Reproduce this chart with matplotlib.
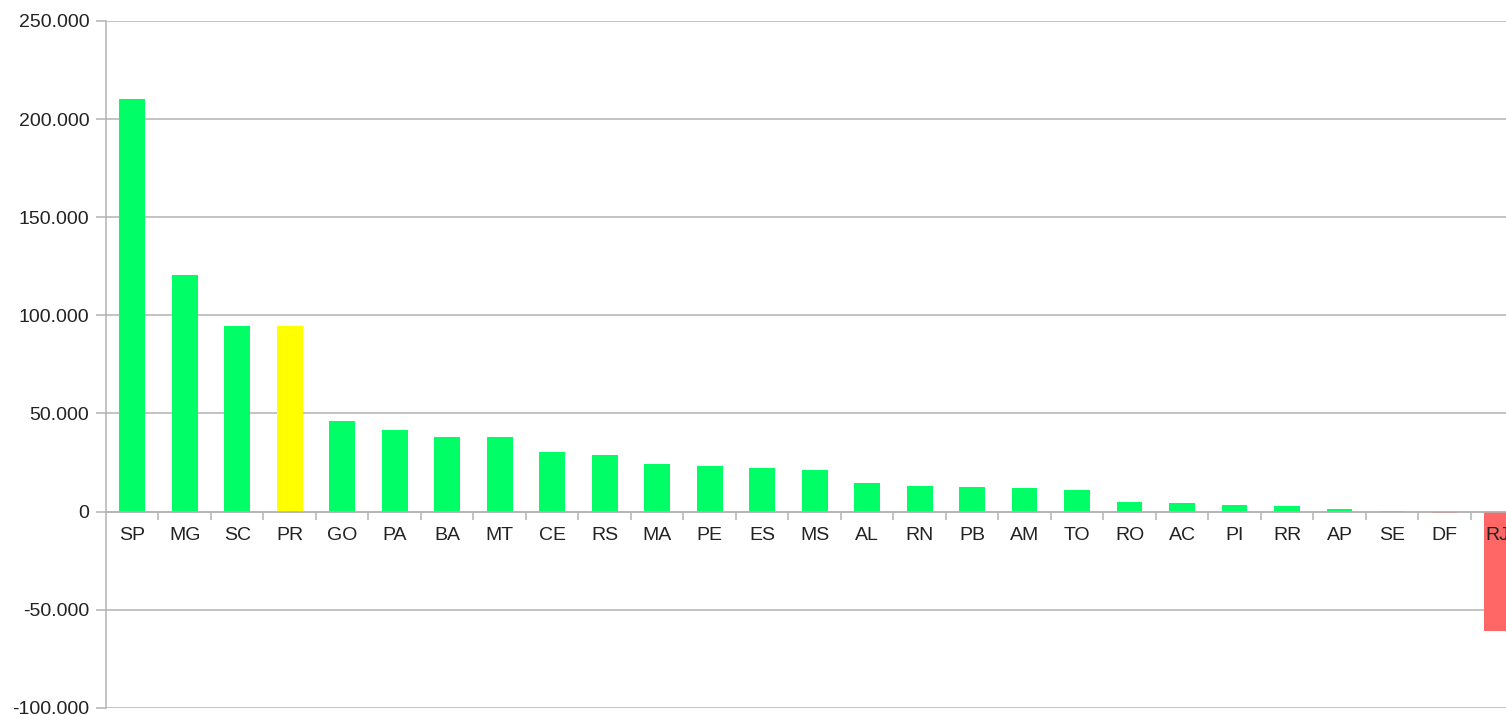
import matplotlib.pyplot as plt
from matplotlib.ticker import FuncFormatter, FixedLocator

# states and values
states = ['SP', 'MG', 'SC', 'PR', 'GO', 'PA', 'BA', 'MT', 'CE', 'RS', 'MA', 'PE', 'ES',
          'MS', 'AL', 'RN', 'PB', 'AM', 'TO', 'RO', 'AC', 'PI', 'RR', 'AP', 'SE', 'DF', 'RJ']
values = [210000, 120500, 94800, 94800, 46300, 41500, 38200, 38000, 30200, 28600, 24000,
          23300, 22000, 20900, 14300, 12900, 12400, 12200, 10900, 4900, 4100, 3500, 2900,
          1200, 200, -700, -61000]
highlight = 'PR'
yticks = list(range(-100000, 250001, 50000))

GREEN = '#00ff66'
YELLOW = '#ffff00'
RED = '#ff6666'
GRID = '#b3b3b3'

colors = []
for s, v in zip(states, values):
    if s == highlight:
        colors.append(YELLOW)
    elif v < 0:
        colors.append(RED)
    else:
        colors.append(GREEN)

plt.rcParams['font.family'] = ['Liberation Sans', 'DejaVu Sans']

fig = plt.figure(figsize=(15.06, 7.15), dpi=100)
ax = fig.add_axes([106 / 1506, 1 - 707.7 / 715, 1 - 106 / 1506, (707.7 - 21) / 715])

x = list(range(len(states)))
# grid behind bars, tick labels on top of bars (RJ label sits on its bar)
for t in yticks:
    ax.axhline(t, color=GRID, linewidth=1.1, zorder=0.5)
ax.bar(x, values, width=0.49, color=colors, zorder=1)

ax.set_ylim(-100000, 250000)
ax.set_xlim(-0.5, 26.17)
ax.set_yticks(yticks)
ax.yaxis.set_major_formatter(FuncFormatter(lambda v, p: f'{int(v):,}'.replace(',', '.')))

for side in ['top', 'right']:
    ax.spines[side].set_visible(False)
ax.spines['left'].set_color(GRID)
ax.spines['left'].set_linewidth(1.1)
ax.spines['bottom'].set_position(('data', 0))
ax.spines['bottom'].set_color(GRID)
ax.spines['bottom'].set_linewidth(1.1)
ax.spines['bottom'].set_zorder(4)

ax.set_xticks(x)
ax.set_xticklabels(states)
ax.xaxis.set_minor_locator(FixedLocator([i + 0.5 for i in x[:-1]]))
ax.tick_params(axis='x', which='major', length=0, pad=11.5, labelsize=14, labelcolor='#222222')
ax.tick_params(axis='x', which='minor', length=6, width=1.1, color=GRID, direction='out')
ax.tick_params(axis='y', length=7.2, width=1.1, color=GRID, pad=4.8, labelsize=14,
               labelcolor='#222222')
ax.xaxis.set_zorder(3)
ax.yaxis.set_zorder(3)

fig.savefig('out.png', dpi=100)
